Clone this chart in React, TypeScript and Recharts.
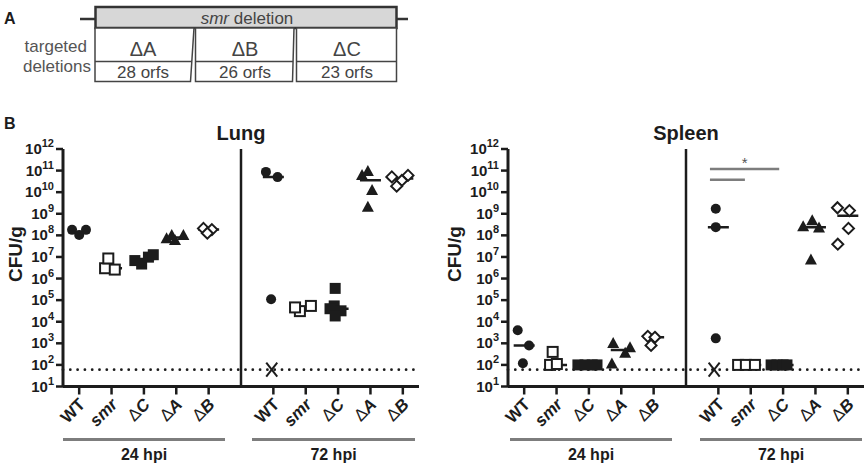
import { ReferenceLine, Scatter, ScatterChart, XAxis, YAxis } from "recharts";

const FONT = '"Liberation Sans", Arial, Helvetica, sans-serif';
const INK = "#1c1c1c";
const GREY = "#7d7d7d";

// Columns 0-4 are 24 hpi, 6-10 are 72 hpi; 5 is the divider between them.
const STRAINS = ["WT", "smr", "ΔC", "ΔA", "ΔB"];
const TIMEPOINTS = ["24 hpi", "72 hpi"];
const SLOTS = [0, 1, 2, 3, 4, 6, 7, 8, 9, 10];
const Y_TICKS = [1e1, 1e2, 1e3, 1e4, 1e5, 1e6, 1e7, 1e8, 1e9, 1e10, 1e11, 1e12];
const DETECTION_LIMIT = 60;

const DELETIONS = ["ΔA", "ΔB", "ΔC"];
const ORF_COUNTS = [28, 26, 23];

// Each row: [scatter offset inside the column, CFU/g]
const LUNG_WT_24 = [[-0.22, 1.8e8], [0.21, 1.8e8], [0, 1.05e8]];
const LUNG_SMR_24 = [[-0.2, 3.0e6], [-0.1, 8.5e6], [0.1, 2.6e6]];
const LUNG_DC_24 = [[-0.28, 6.8e6], [-0.07, 4.7e6], [0.14, 9.8e6], [0.29, 1.27e7]];
const LUNG_DA_24 = [[-0.3, 6.9e7], [-0.04, 5.8e7], [-0.14, 9.8e7], [0.22, 9.8e7]];
const LUNG_DB_24 = [[-0.16, 2.1e8], [0.1, 1.85e8], [-0.04, 1.26e8]];
const LUNG_WT_72 = [[-0.23, 8.7e10], [0.13, 5e10], [-0.07, 1.1e5]];
const LUNG_SMR_72 = [[-0.18, 3.1e4], [-0.33, 4.6e4], [0.16, 5.4e4]];
const LUNG_DC_72 = [[-0.09, 3.5e5], [-0.12, 5.4e4], [-0.25, 4e4], [0.09, 3.2e4], [-0.09, 1.85e4]];
const LUNG_DA_72 = [[-0.26, 6e10], [-0.08, 9e10], [0.05, 1.2e10], [-0.08, 2e9]];
const LUNG_DB_72 = [[-0.34, 5.1e10], [0.16, 6e10], [-0.03, 3.5e10], [-0.19, 1.9e10]];
const LUNG_LOST = [[6, -0.05]];
const LUNG_MEDIANS = [1.4e8, 3.0e6, 8e6, 8e7, 1.85e8, 5e10, 4.6e4, 4e4, 3.6e10, 4.3e10];

const SPLEEN_WT_24 = [[-0.2, 4e3], [0.15, 8e2], [-0.04, 1.2e2]];
const SPLEEN_SMR_24 = [[-0.2, 1e2], [-0.12, 4e2], [0.01, 1.1e2]];
const SPLEEN_DC_24 = [[-0.34, 1e2], [-0.12, 1e2], [0.1, 1e2], [0.25, 1e2]];
const SPLEEN_DA_24 = [[-0.25, 9.7e2], [0.27, 6.3e2], [0.12, 3.5e2], [-0.29, 1.1e2]];
const SPLEEN_DB_24 = [[-0.18, 2.1e3], [0.04, 1.9e3], [-0.08, 8e2]];
const SPLEEN_WT_72 = [[-0.08, 1.7e9], [-0.08, 2.4e8], [-0.08, 1.7e3]];
const SPLEEN_SMR_72 = [[-0.39, 1e2], [-0.15, 1e2], [0.13, 1e2]];
const SPLEEN_DC_72 = [[-0.37, 1e2], [-0.19, 1e2], [0, 1e2], [0.12, 1e2]];
const SPLEEN_DA_72 = [[-0.38, 2.5e8], [-0.1, 4.7e8], [0.11, 2.2e8], [-0.14, 7.2e6]];
const SPLEEN_DB_72 = [[-0.32, 1.9e9], [0.05, 1.4e9], [0.02, 2.1e8], [-0.31, 3.9e7]];
const SPLEEN_LOST = [[6, -0.13]];
const SPLEEN_MEDIANS = [8e2, 1e2, 1e2, 4.9e2, 1.9e3, 2.4e8, 1e2, 1e2, 2.35e8, 8e8];
// comparison bars: [from column, to column, CFU/g level]
const SPLEEN_SIG_BARS = [[5.74, 7.88, 1.2e11], [5.74, 6.82, 3.8e10]];

type Pt = { x: number; y: number };

const toPoints = (slot: number, rows: number[][]): Pt[] =>
  rows.map(([d, v]) => ({ x: slot + d, y: v }));

const lostPoints = (rows: number[][]): Pt[] =>
  rows.map(([slot, d]) => ({ x: slot + d, y: DETECTION_LIMIT }));

const medianPoints = (values: number[]): Pt[] =>
  SLOTS.map((s, i) => ({ x: s, y: values[i] }));

function Dot({ cx, cy }: any) {
  return <circle cx={cx} cy={cy} r={5} fill={INK} />;
}
function OpenSquare({ cx, cy }: any) {
  return <rect x={cx - 5} y={cy - 5} width={10} height={10} fill="#fff" stroke={INK} strokeWidth={2} />;
}
function SolidSquare({ cx, cy }: any) {
  return <rect x={cx - 5.5} y={cy - 5.5} width={11} height={11} fill={INK} />;
}
function Triangle({ cx, cy }: any) {
  return <polygon points={`${cx},${cy - 6.5} ${cx + 6},${cy + 4.5} ${cx - 6},${cy + 4.5}`} fill={INK} />;
}
function Diamond({ cx, cy }: any) {
  return (
    <polygon
      points={`${cx},${cy - 5.5} ${cx + 5.5},${cy} ${cx},${cy + 5.5} ${cx - 5.5},${cy}`}
      fill="#fff"
      stroke={INK}
      strokeWidth={2}
    />
  );
}
function Cross({ cx, cy }: any) {
  return (
    <g stroke={INK} strokeWidth={2}>
      <line x1={cx - 5.5} y1={cy - 7} x2={cx + 5.5} y2={cy + 7} />
      <line x1={cx + 5.5} y1={cy - 7} x2={cx - 5.5} y2={cy + 7} />
    </g>
  );
}
function MedianTick({ cx, cy }: any) {
  return <line x1={cx - 10.5} x2={cx + 10.5} y1={cy} y2={cy} stroke={INK} strokeWidth={2.5} />;
}

function PowerTick({ x, y, payload }: any) {
  const exp = Math.round(Math.log10(payload.value));
  return (
    <text x={x} y={y + 5} textAnchor="end" fontSize={15} fontWeight={700} fill={INK} fontFamily={FONT}>
      10
      <tspan dy={-7} fontSize={11}>
        {exp}
      </tspan>
    </text>
  );
}

function StrainTick({ x, y, payload }: any) {
  const slot = payload.value as number;
  const name = STRAINS[slot < 5 ? slot : slot - 6];
  let body;
  if (name === "WT") body = "WT";
  else if (name === "smr") body = <tspan fontStyle="italic">smr</tspan>;
  else
    body = (
      <>
        <tspan fontWeight={400}>{name[0]}</tspan>
        <tspan fontStyle="italic">{name.slice(1)}</tspan>
      </>
    );
  return (
    <g transform={`translate(${x + 7},${y + 9}) rotate(-45)`}>
      <text textAnchor="end" fontSize={17} fontWeight={700} fill={INK} fontFamily={FONT}>
        {body}
      </text>
    </g>
  );
}

type Series = { name: string; shape: any; data: Pt[] };

function OrganPanel({
  title,
  width,
  marginRight,
  labelX,
  series,
  lost,
  medians,
  sigBars = [],
}: {
  title: string;
  width: number;
  marginRight: number;
  labelX: number;
  series: Series[];
  lost: Pt[];
  medians: Pt[];
  sigBars?: number[][];
}) {
  return (
    <ScatterChart width={width} height={465} margin={{ top: 149, right: marginRight, bottom: 0, left: 0 }}>
      <XAxis
        type="number"
        dataKey="x"
        domain={[-0.5, 10.5]}
        ticks={SLOTS}
        interval={0}
        height={78.5}
        tickSize={8}
        axisLine={{ stroke: INK, strokeWidth: 3 }}
        tickLine={{ stroke: INK, strokeWidth: 2.5 }}
        tick={(p: any) => <StrainTick {...p} />}
        allowDataOverflow
      />
      <YAxis
        type="number"
        dataKey="y"
        scale="log"
        domain={[10, 1e12]}
        ticks={Y_TICKS}
        interval={0}
        width={63}
        tickSize={7}
        axisLine={{ stroke: INK, strokeWidth: 3 }}
        tickLine={{ stroke: INK, strokeWidth: 2.5 }}
        tick={(p: any) => <PowerTick {...p} />}
        allowDataOverflow
        label={{
          content: () => (
            <text
              transform={`translate(${labelX},254) rotate(-90)`}
              textAnchor="middle"
              fontSize={19}
              fontWeight={700}
              fill={INK}
              fontFamily={FONT}
            >
              CFU/g
            </text>
          ),
        }}
      />
      <ReferenceLine
        x={5}
        stroke={INK}
        strokeWidth={2.5}
        label={{
          value: title,
          position: "top",
          offset: 9,
          fontSize: 20,
          fontWeight: 700,
          fill: INK,
          fontFamily: FONT,
        }}
      />
      <ReferenceLine
        y={DETECTION_LIMIT}
        stroke={INK}
        strokeWidth={2.8}
        strokeDasharray="0 7.3"
        strokeLinecap="round"
      />
      {sigBars.map(([from, to, level], i) => (
        <ReferenceLine
          key={`sig-${i}`}
          segment={[
            { x: from, y: level },
            { x: to, y: level },
          ]}
          stroke={GREY}
          strokeWidth={2.5}
          label={
            i === 0
              ? { value: "*", position: "top", offset: 1, fontSize: 15, fill: "#555", fontFamily: FONT }
              : undefined
          }
        />
      ))}
      <Scatter data={medians} shape={(p: any) => <MedianTick {...p} />} isAnimationActive={false} />
      {series.map((s) => (
        <Scatter key={s.name} data={s.data} shape={s.shape} isAnimationActive={false} />
      ))}
      <Scatter data={lost} shape={(p: any) => <Cross {...p} />} isAnimationActive={false} />
    </ScatterChart>
  );
}

const lungSeries: Series[] = [
  { name: "WT", shape: (p: any) => <Dot {...p} />, data: [...toPoints(0, LUNG_WT_24), ...toPoints(6, LUNG_WT_72)] },
  { name: "smr", shape: (p: any) => <OpenSquare {...p} />, data: [...toPoints(1, LUNG_SMR_24), ...toPoints(7, LUNG_SMR_72)] },
  { name: "dC", shape: (p: any) => <SolidSquare {...p} />, data: [...toPoints(2, LUNG_DC_24), ...toPoints(8, LUNG_DC_72)] },
  { name: "dA", shape: (p: any) => <Triangle {...p} />, data: [...toPoints(3, LUNG_DA_24), ...toPoints(9, LUNG_DA_72)] },
  { name: "dB", shape: (p: any) => <Diamond {...p} />, data: [...toPoints(4, LUNG_DB_24), ...toPoints(10, LUNG_DB_72)] },
];

const spleenSeries: Series[] = [
  { name: "WT", shape: (p: any) => <Dot {...p} />, data: [...toPoints(0, SPLEEN_WT_24), ...toPoints(6, SPLEEN_WT_72)] },
  { name: "smr", shape: (p: any) => <OpenSquare {...p} />, data: [...toPoints(1, SPLEEN_SMR_24), ...toPoints(7, SPLEEN_SMR_72)] },
  { name: "dC", shape: (p: any) => <SolidSquare {...p} />, data: [...toPoints(2, SPLEEN_DC_24), ...toPoints(8, SPLEEN_DC_72)] },
  { name: "dA", shape: (p: any) => <Triangle {...p} />, data: [...toPoints(3, SPLEEN_DA_24), ...toPoints(9, SPLEEN_DA_72)] },
  { name: "dB", shape: (p: any) => <Diamond {...p} />, data: [...toPoints(4, SPLEEN_DB_24), ...toPoints(10, SPLEEN_DB_72)] },
];

function DeletionMap() {
  const boxes = [
    { pts: "95,28 194,28 190.5,81.5 95,81.5", x0: 95, x1: 192, cx: 143 },
    { pts: "195.5,28 294,28 292.5,81.5 195.5,81.5", x0: 195.5, x1: 293, cx: 245 },
    { pts: "296.5,28 396.5,28 396.5,81.5 296.5,81.5", x0: 296.5, x1: 396.5, cx: 347 },
  ];
  return (
    <svg width={420} height={90} style={{ position: "absolute", left: 0, top: 0 }} fontFamily={FONT}>
      <text x={4} y={24} fontSize={16} fontWeight={700} fill={INK}>
        A
      </text>
      <line x1={80} x2={96} y1={19} y2={19} stroke="#333" strokeWidth={2.5} />
      <line x1={396} x2={408} y1={19} y2={19} stroke="#333" strokeWidth={2.5} />
      <rect x={95.5} y={7} width={301} height={21} fill="#d7d7d7" stroke="#333" strokeWidth={2.5} />
      <text x={247} y={24} textAnchor="middle" fontSize={17} fill="#444">
        <tspan fontStyle="italic">smr</tspan> deletion
      </text>
      <text x={87} y={52} textAnchor="end" fontSize={17} fill="#555">
        targeted
      </text>
      <text x={91} y={72} textAnchor="end" fontSize={17} fill="#555">
        deletions
      </text>
      {boxes.map((b, i) => (
        <g key={i}>
          <polygon points={b.pts} fill="#fff" stroke="#444" strokeWidth={1.5} />
          <line x1={b.x0} x2={b.x1} y1={61.5} y2={61.5} stroke="#444" strokeWidth={1.5} />
          <text x={b.cx} y={56} textAnchor="middle" fontSize={20} fill="#444">
            {DELETIONS[i]}
          </text>
          <text x={b.cx} y={78} textAnchor="middle" fontSize={17} fill="#444">
            {ORF_COUNTS[i]} orfs
          </text>
        </g>
      ))}
    </svg>
  );
}

export default function App() {
  const groupBars = [
    { left: 63, width: 162, text: TIMEPOINTS[0] },
    { left: 252, width: 163, text: TIMEPOINTS[1] },
    { left: 510, width: 162, text: TIMEPOINTS[0] },
    { left: 700, width: 162, text: TIMEPOINTS[1] },
  ];
  return (
    <div
      style={{
        position: "absolute",
        left: 0,
        top: 0,
        width: 868,
        height: 465,
        background: "#fff",
        overflow: "hidden",
        fontFamily: FONT,
      }}
    >
      <DeletionMap />
      <div style={{ position: "absolute", left: 4, top: 115, fontSize: 16, fontWeight: 700, color: INK }}>B</div>
      <div style={{ position: "absolute", left: 0, top: 0 }}>
        <OrganPanel
          title="Lung"
          width={434}
          marginRight={15}
          labelX={21.5}
          series={lungSeries}
          lost={lostPoints(LUNG_LOST)}
          medians={medianPoints(LUNG_MEDIANS)}
        />
      </div>
      <div style={{ position: "absolute", left: 445, top: 0 }}>
        <OrganPanel
          title="Spleen"
          width={423}
          marginRight={4}
          labelX={16}
          series={spleenSeries}
          lost={lostPoints(SPLEEN_LOST)}
          medians={medianPoints(SPLEEN_MEDIANS)}
          sigBars={SPLEEN_SIG_BARS}
        />
      </div>
      {groupBars.map((g, i) => (
        <div key={i}>
          <div
            style={{ position: "absolute", left: g.left, top: 438, width: g.width, height: 3, background: GREY }}
          />
          <div
            style={{
              position: "absolute",
              left: g.left,
              top: 447,
              width: g.width,
              textAlign: "center",
              fontSize: 16,
              fontWeight: 700,
              color: INK,
              lineHeight: "16px",
            }}
          >
            {g.text}
          </div>
        </div>
      ))}
    </div>
  );
}
